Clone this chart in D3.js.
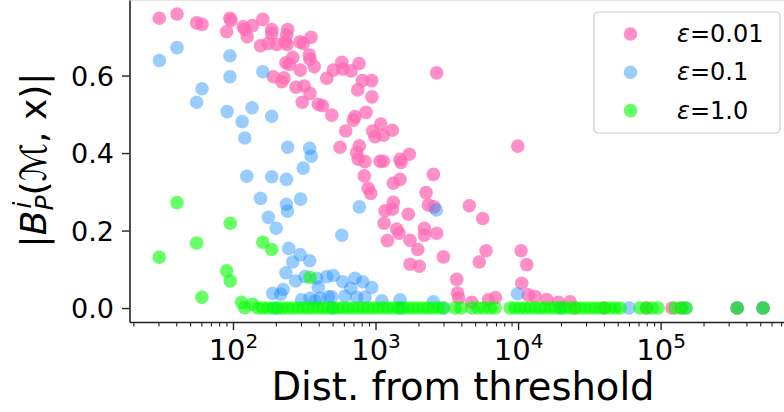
<!DOCTYPE html>
<html>
<head>
<meta charset="utf-8">
<script src="https://cdn.jsdelivr.net/npm/d3@7"></script>
<style>
  body { margin: 0; background: #fff; }
  text { font-family: "DejaVu Sans", sans-serif; fill: #000; }
</style>
</head>
<body>
<div id="chart"></div>
<script>
// [distance from threshold, |B|]
const eps001 = [
  [30.4, 0.748], [40.5, 0.759], [55.6, 0.736], [60.6, 0.732], [95.2, 0.748], [96.8, 0.742],
  [90.3, 0.713], [118, 0.726], [121, 0.719], [137, 0.729], [126, 0.700], [162, 0.745],
  [187, 0.719], [187, 0.709], [156, 0.677], [177, 0.683], [203, 0.680], [242, 0.719],
  [238, 0.705], [233, 0.687], [240, 0.680], [295, 0.687], [311, 0.683], [353, 0.699],
  [343, 0.653], [347, 0.642], [372, 0.623], [263, 0.647], [235, 0.633], [249, 0.629],
  [297, 0.614], [192, 0.597], [220, 0.584], [228, 0.594], [277, 0.570], [316, 0.573],
  [347, 0.554], [306, 0.531], [397, 0.526], [424, 0.522], [455, 0.593], [506, 0.614],
  [580, 0.634], [589, 0.617], [673, 0.612], [766, 0.631], [808, 0.587], [940, 0.587],
  [750, 0.563], [944, 0.545], [493, 0.498], [718, 0.494], [698, 0.485], [857, 0.505],
  [618, 0.457], [955, 0.457], [1087, 0.475], [1312, 0.459], [991, 0.442], [1135, 0.446],
  [564, 0.415], [770, 0.419], [738, 0.401], [757, 0.384], [843, 0.378], [1076, 0.379],
  [1135, 0.379], [1486, 0.384], [1727, 0.397], [1510, 0.376], [2685, 0.607], [9950, 0.418],
  [834, 0.341], [889, 0.309], [925, 0.296], [1333, 0.322], [1486, 0.332], [2547, 0.345],
  [2262, 0.298], [2348, 0.266], [2574, 0.261], [1333, 0.273], [1312, 0.255], [1166, 0.251],
  [1148, 0.219], [1409, 0.204], [1462, 0.193], [1211, 0.174], [1698, 0.242], [2200, 0.206],
  [2200, 0.188], [2685, 0.193], [1746, 0.175], [1977, 0.151], [2994, 0.132], [1746, 0.113],
  [2028, 0.108], [4550, 0.264], [5650, 0.231], [5960, 0.148], [5345, 0.119], [3715, 0.074],
  [3760, 0.039], [3835, 0.026], [4735, 0.015], [6195, 0.021], [6935, 0.027], [10500, 0.148],
  [11510, 0.112], [10610, 0.064], [11800, 0.034], [13150, 0.030], [15890, 0.022],
  [19170, 0.015], [23170, 0.016], [25000, 0.0], [40000, 0.0], [80000, 0.0], [120000, 0.0],
  [140000, 0.0], [344300, 0.0], [523200, 0.0]
];

const eps01 = [
  [30.5, 0.639], [40.5, 0.672], [55.6, 0.531], [60.6, 0.566], [95.2, 0.651], [95.2, 0.597],
  [91.0, 0.507], [116, 0.481], [136, 0.517], [121, 0.439], [187, 0.495], [162, 0.610],
  [242, 0.415], [345, 0.412], [354, 0.392], [311, 0.361], [125, 0.340], [187, 0.339],
  [237, 0.332], [156, 0.283], [237, 0.268], [241, 0.250], [298, 0.281], [177, 0.234],
  [201, 0.206], [246, 0.154], [296, 0.138], [345, 0.122], [262, 0.119], [235, 0.091],
  [275, 0.070], [320, 0.081], [397, 0.054], [387, 0.077], [455, 0.081], [190, 0.038],
  [225, 0.048], [216, 0.036], [303, 0.021], [408, 0.025], [467, 0.029], [770, 0.261],
  [580, 0.188], [2672, 0.253], [506, 0.084], [589, 0.068], [718, 0.077], [813, 0.068],
  [940, 0.053], [670, 0.051], [611, 0.031], [493, 0.029], [738, 0.028], [843, 0.028],
  [1107, 0.019], [1486, 0.021], [2547, 0.016], [9910, 0.037], [376, 0.019], [347, 0.025],
  [200, 0.0], [500, 0.0], [1500, 0.0], [3000, 0.0], [20000, 0.0], [60000, 0.0],
  [150000, 0.0], [344300, 0.0], [523200, 0.0]
];

const eps1 = [
  [30.4, 0.131], [40.5, 0.272], [55.6, 0.168], [60.6, 0.028], [95.7, 0.219], [90.3, 0.096],
  [95.7, 0.070], [162, 0.170], [187, 0.151], [347, 0.079], [115, 0.015], [121, 0.001],
  [137, 0.010],
  [150, 0], [162, 0], [176, 0], [191, 0], [207, 0], [224, 0], [243, 0], [264, 0], [286, 0],
  [310, 0], [336, 0], [364, 0], [395, 0], [428, 0], [464, 0], [503, 0], [546, 0], [591, 0],
  [641, 0], [695, 0], [753, 0], [817, 0], [885, 0], [960, 0], [1040, 0], [1130, 0], [1225, 0],
  [1328, 0], [1439, 0], [1560, 0], [1691, 0], [1833, 0], [1987, 0], [2154, 0], [2335, 0],
  [2532, 0], [2745, 0], [2977, 0], [3614, 0], [3981, 0], [4753, 0], [5236, 0], [5768, 0],
  [6363, 0], [6897, 0], [8789, 0], [9530, 0], [10330, 0], [11200, 0], [12140, 0], [13160, 0],
  [14270, 0], [15460, 0], [16770, 0], [18180, 0], [19710, 0], [21360, 0], [23160, 0],
  [25110, 0], [27220, 0], [29510, 0], [31990, 0], [34680, 0], [37600, 0], [40760, 0],
  [44190, 0], [47970, 0], [51990, 0], [71780, 0], [79070, 0], [87120, 0], [95930, 0],
  [126500, 0], [139400, 0], [151000, 0], [344300, 0], [523200, 0]
];

const seriesData = [eps001, eps01, eps1];
const legendValues = ['0.01', '0.1', '1.0'];
const colors = ['#ff69b4', '#1e90ff', '#00ff00'];
const opacities = [0.75, 0.45, 0.6];

const xMajor = [1e2, 1e3, 1e4, 1e5];
const yTicks = [0, 0.2, 0.4, 0.6];

const width = 784, height = 412;
const svg = d3.select('#chart').append('svg')
  .attr('width', width)
  .attr('height', height);

const x = d3.scaleLog().domain([18.8, 9.5e5]).range([129.5, 800]);
const y = d3.scaleLinear().domain([-0.036, 0.795]).range([322, 0]);

// faint top edge of the frame
svg.append('line')
  .attr('x1', 129.5).attr('x2', width)
  .attr('y1', 0.5).attr('y2', 0.5)
  .attr('stroke', '#e4e4e4');

// points
const plot = svg.append('g');
seriesData.forEach((s, i) => {
  plot.append('g').selectAll('circle')
    .data(s)
    .enter().append('circle')
      .attr('cx', d => x(d[0]))
      .attr('cy', d => y(d[1]))
      .attr('r', 6.8)
      .attr('fill', colors[i])
      .attr('fill-opacity', opacities[i]);
});

// minor ticks for the log axis
const xMinor = [];
for (let p = 1; p <= 5; p++) {
  for (let k = 2; k <= 9; k++) {
    const v = k * Math.pow(10, p);
    if (v > 18.8 && v < 9.5e5) xMinor.push(v);
  }
}

const xAxisMinor = svg.append('g')
  .attr('transform', 'translate(0,322)')
  .call(d3.axisBottom(x).tickValues(xMinor).tickSize(4.5).tickSizeOuter(0).tickFormat(''));
xAxisMinor.select('.domain').remove();
xAxisMinor.selectAll('line').attr('stroke-width', 1.1).attr('stroke', '#222');

const xAxis = svg.append('g')
  .attr('transform', 'translate(0,322)')
  .call(d3.axisBottom(x).tickValues(xMajor).tickSize(8).tickSizeOuter(0).tickPadding(10));
xAxis.select('.domain').attr('stroke-width', 1.6).attr('stroke', '#222');
xAxis.selectAll('line').attr('stroke-width', 1.4).attr('stroke', '#222');
xAxis.selectAll('text')
  .attr('font-size', 29)
  .attr('y', 38)
  .attr('dy', null)
  .each(function(d) {
    const t = d3.select(this).text('');
    t.append('tspan').text('10');
    t.append('tspan')
      .attr('font-size', 20)
      .attr('dy', -12)
      .text(Math.round(Math.log10(d)));
  });

const yAxis = svg.append('g')
  .attr('transform', 'translate(129.5,0)')
  .call(d3.axisLeft(y).tickValues(yTicks).tickSize(7.5).tickSizeOuter(0)
    .tickPadding(8).tickFormat(d3.format('.1f')));
yAxis.select('.domain').attr('stroke-width', 1.6).attr('stroke', '#222');
yAxis.selectAll('line').attr('stroke-width', 1.4).attr('stroke', '#222');
yAxis.selectAll('text').attr('font-size', 27).attr('dy', '0.36em');

// axis titles
svg.append('text')
  .attr('x', 463)
  .attr('y', 400)
  .attr('text-anchor', 'middle')
  .attr('font-size', 38.5)
  .text('Dist. from threshold');

const yTitle = svg.append('text')
  .attr('transform', 'translate(46,160) rotate(-90)')
  .attr('text-anchor', 'middle')
  .attr('font-size', 36);
yTitle.append('tspan').text('|');
yTitle.append('tspan').attr('font-style', 'italic').text('B');
const sub = yTitle.append('tspan')
  .attr('font-style', 'italic').attr('font-size', 25).attr('dy', 7).text('P');
const subLen = sub.node().getComputedTextLength();
const sup = yTitle.append('tspan')
  .attr('font-style', 'italic').attr('font-size', 25)
  .attr('dx', -subLen + 2).attr('dy', -22).text('i');
const supLen = sup.node().getComputedTextLength();
yTitle.append('tspan').attr('dx', subLen - supLen - 2).attr('dy', 15).text('(');
yTitle.append('tspan').attr('font-style', 'italic').text('ℳ');
yTitle.append('tspan').text(', x)|');

// legend
const legend = svg.append('g').attr('transform', 'translate(594,12)');
legend.append('rect')
  .attr('width', 186).attr('height', 121)
  .attr('rx', 4)
  .attr('fill', '#fff').attr('fill-opacity', 0.8)
  .attr('stroke', '#cccccc').attr('stroke-width', 1.2);
legendValues.forEach((v, i) => {
  const row = legend.append('g').attr('transform', `translate(0,${22 + i * 38.3})`);
  row.append('circle')
    .attr('cx', 36.5).attr('cy', 0).attr('r', 6.8)
    .attr('fill', colors[i]).attr('fill-opacity', opacities[i]);
  const t = row.append('text')
    .attr('x', 83).attr('y', 8)
    .attr('font-size', 24);
  t.append('tspan').attr('font-style', 'italic').text('ε');
  t.append('tspan').text('=' + v);
});
</script>
</body>
</html>
